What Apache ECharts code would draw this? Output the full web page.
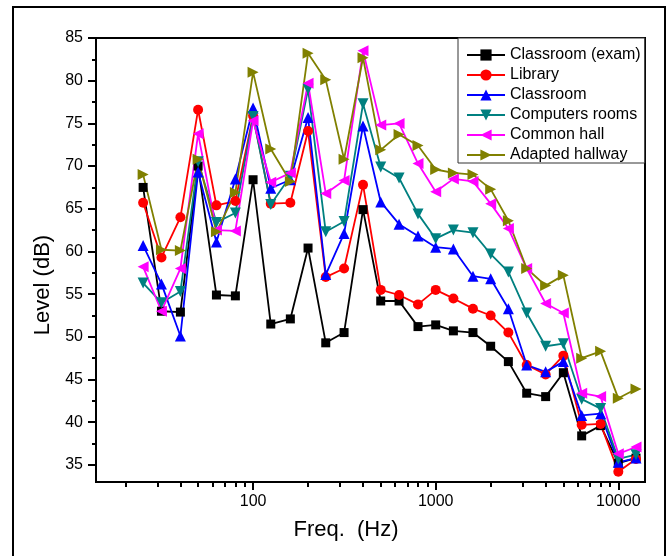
<!DOCTYPE html>
<html><head><meta charset="utf-8">
<script src="https://cdn.jsdelivr.net/npm/echarts@6/dist/echarts.min.js"></script>
<style>html,body{margin:0;padding:0;background:#fff}#c{width:672px;height:556px}</style>
</head><body><div id="c"></div>
<script>
const freqs = [25,31.5,40,50,63,80,100,125,160,200,250,315,400,500,630,800,1000,1250,1600,2000,2500,3150,4000,5000,6300,8000,10000,12500];
const classroomExam = [67.5,53.0,52.9,70.0,54.9,54.8,68.4,51.5,52.1,60.4,49.3,50.5,64.9,54.2,54.2,51.2,51.4,50.7,50.5,48.9,47.1,43.4,43.0,45.8,38.4,39.6,35.2,35.8];
const library = [65.7,59.3,64.0,76.6,65.4,65.9,75.9,65.6,65.7,74.1,57.0,58.0,67.8,55.5,54.9,53.8,55.5,54.5,53.3,52.5,50.5,46.7,45.6,47.8,39.7,39.8,34.2,35.7];
const classroom = [60.7,56.2,50.1,69.3,61.1,68.5,76.8,67.4,68.4,75.7,57.3,62.1,74.7,65.8,63.2,61.8,60.5,60.3,57.1,56.8,53.3,46.7,45.9,47.1,40.8,41.0,35.3,35.8];
const computers = [56.3,54.0,55.3,70.5,63.4,64.5,75.8,65.5,68.8,79.0,62.3,63.5,77.3,69.9,68.6,64.4,61.5,62.5,62.2,59.7,57.6,52.8,48.9,49.2,42.7,41.6,35.7,36.2];
const commonHall = [58.2,53.0,58.0,73.8,62.5,62.4,75.3,68.1,69.2,79.7,66.8,68.3,83.5,74.8,75.0,70.3,67.0,68.5,68.2,65.6,62.7,58.0,53.9,52.8,43.4,43.0,36.3,37.1];
const adaptedHallway = [69.0,60.2,60.1,70.8,62.3,66.9,81.0,72.0,68.2,83.2,80.1,70.8,82.7,71.9,73.7,72.4,69.6,69.2,69.0,67.3,63.6,58.0,56.0,57.2,47.5,48.3,42.8,43.9];

const xMajor = [100,1000,10000];
const xMinor = [20,30,40,50,60,70,80,90,200,300,400,500,600,700,800,900,2000,3000,4000,5000,6000,7000,8000,9000];
const yMajor = [35,40,45,50,55,60,65,70,75,80,85];
const yMinor = [37.5,42.5,47.5,52.5,57.5,62.5,67.5,72.5,77.5,82.5];

const seriesDefs = [
  {name:'Classroom (exam)', data:classroomExam, color:'#000000', symbol:'rect', size:9, rot:0},
  {name:'Library', data:library, color:'#ff0000', symbol:'circle', size:10, rot:0},
  {name:'Classroom', data:classroom, color:'#0000ff', symbol:'triangle', size:11, rot:0},
  {name:'Computers rooms', data:computers, color:'#008080', symbol:'triangle', size:11, rot:180},
  {name:'Common hall', data:commonHall, color:'#ff00ff', symbol:'triangle', size:11, rot:90},
  {name:'Adapted hallway', data:adaptedHallway, color:'#808000', symbol:'triangle', size:11, rot:-90}
];

const FONT = '"Liberation Sans", Arial, sans-serif';
const chart = echarts.init(document.getElementById('c'), null, {renderer:'canvas'});
const xMin = 13.8, xMax = 14000, yMin = 33, yMax = 85;

chart.setOption({
  animation:false,
  backgroundColor:'#fff',
  grid:{left:96, right:27, top:38, bottom:74, show:true, borderColor:'#000', borderWidth:2, backgroundColor:'transparent'},
  legend:{
    orient:'vertical', left:458, top:38, padding:[9,4,0,8],
    itemWidth:38, itemHeight:14, itemGap:4, itemTextGap:3,
    textStyle:{fontFamily:FONT, fontSize:16, color:'#000', lineHeight:14},
    backgroundColor:'#fff', borderColor:'#333', borderWidth:1,
    data: seriesDefs.map(s=>s.name)
  },
  xAxis:[
    {type:'log', logBase:10, min:xMin, max:xMax, position:'bottom',
     axisLine:{show:true, onZero:false, lineStyle:{color:'#000', width:2}},
     axisTick:{show:true, customValues:xMajor, length:8, inside:false, lineStyle:{color:'#000', width:2}},
     axisLabel:{customValues:xMajor, margin:12, fontFamily:FONT, fontSize:16, color:'#000', formatter:v=>String(Math.round(v))},
     splitLine:{show:false}, minorTick:{show:false}},
    {type:'log', logBase:10, min:xMin, max:xMax, position:'bottom', gridIndex:0,
     axisLine:{show:false},
     axisTick:{show:true, customValues:xMinor, length:5, lineStyle:{color:'#000', width:2}},
     axisLabel:{show:false}, splitLine:{show:false}}
  ],
  yAxis:[
    {type:'value', min:yMin, max:yMax, position:'left',
     axisLine:{show:true, onZero:false, lineStyle:{color:'#000', width:2}},
     axisTick:{show:true, customValues:yMajor, length:8, lineStyle:{color:'#000', width:2}},
     axisLabel:{customValues:yMajor, margin:13, fontFamily:FONT, fontSize:16, color:'#000'},
     splitLine:{show:false}},
    {type:'value', min:yMin, max:yMax, position:'left', gridIndex:0,
     axisLine:{show:false},
     axisTick:{show:true, customValues:yMinor, length:4, lineStyle:{color:'#000', width:2}},
     axisLabel:{show:false}, splitLine:{show:false}}
  ],
  graphic:[
    {type:'rect', shape:{x:13, y:7, width:652, height:620}, style:{fill:'none', stroke:'#000', lineWidth:2}, silent:true, z:-1},
    {type:'text', x:346, y:530, style:{text:'Freq.  (Hz)', font:'22px '+FONT, fill:'#000', textAlign:'center', textVerticalAlign:'middle'}},
    {type:'text', x:43, y:285, rotation:Math.PI/2, style:{text:'Level (dB)', font:'22px '+FONT, fill:'#000', textAlign:'center', textVerticalAlign:'middle'}}
  ],
  series: seriesDefs.map(s=>({
    name:s.name, type:'line', xAxisIndex:0, yAxisIndex:0,
    data: freqs.map((f,i)=>[f, s.data[i]]),
    symbol:s.symbol, symbolSize:s.size, symbolRotate:s.rot, showAllSymbol:true,
    lineStyle:{color:s.color, width:1.8},
    itemStyle:{color:s.color, borderWidth:0},
    emphasis:{disabled:true}
  }))
});
</script></body></html>
